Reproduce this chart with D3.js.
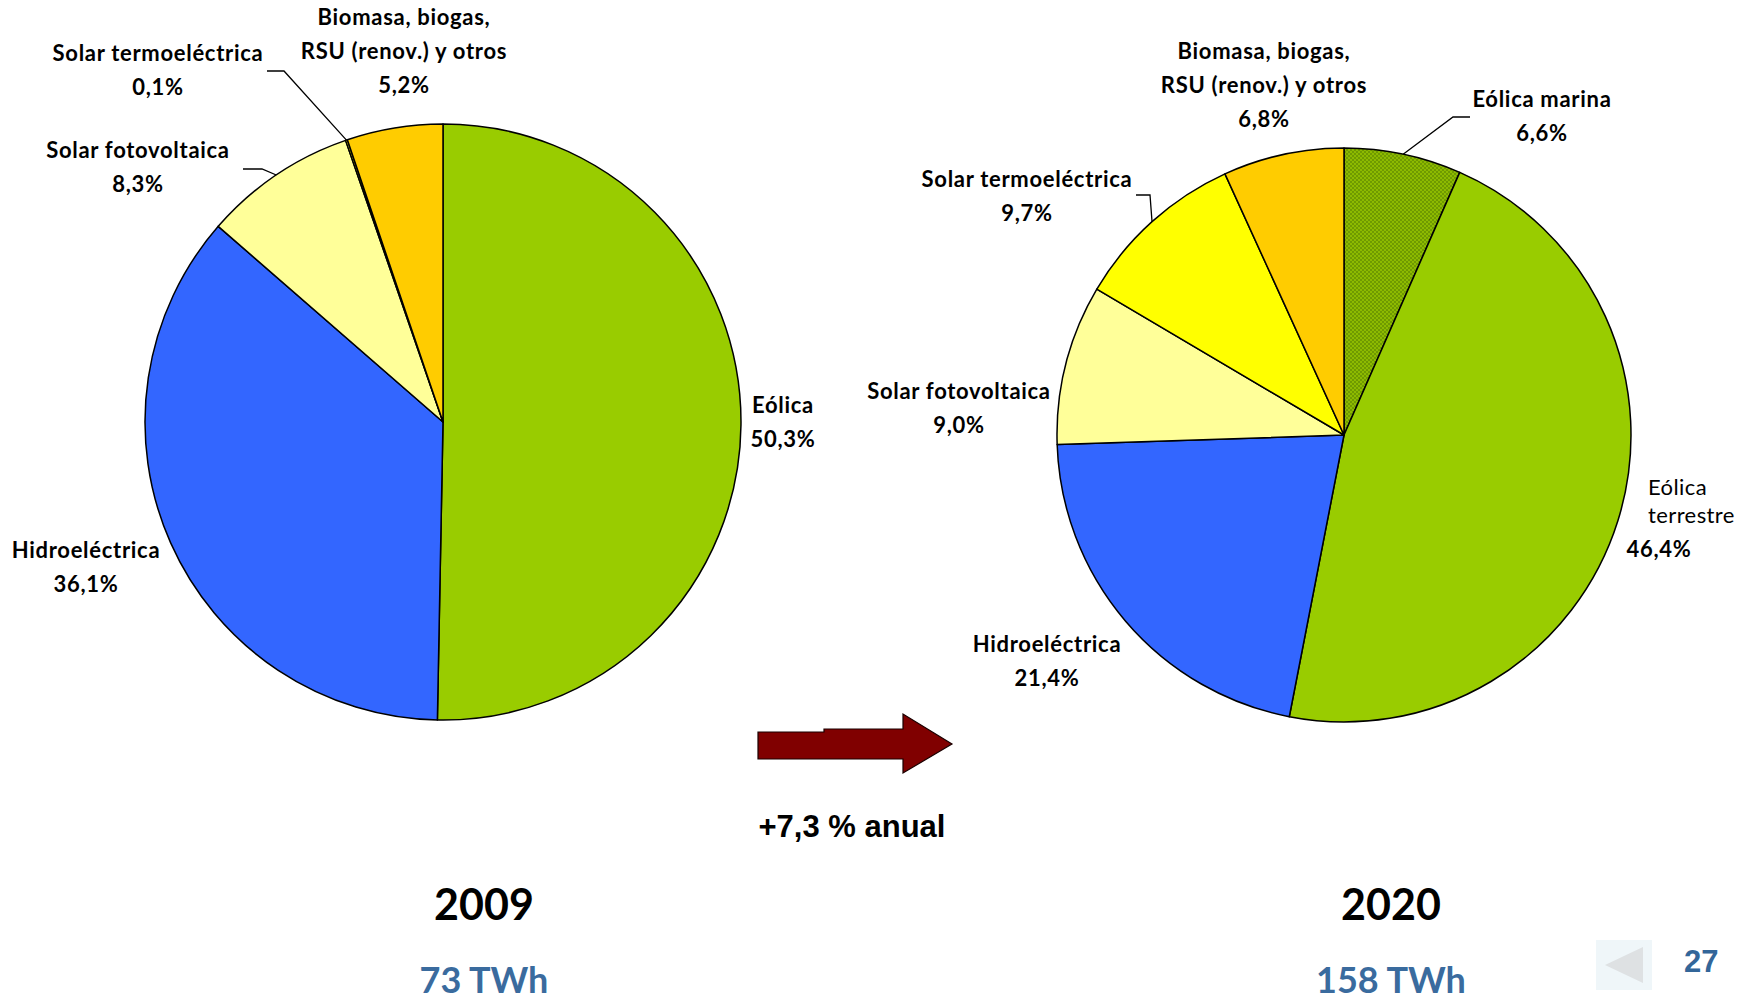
<!DOCTYPE html>
<html>
<head>
<meta charset="utf-8">
<script src="https://cdn.jsdelivr.net/npm/d3@7"></script>
<style>
  html, body { margin: 0; padding: 0; background: #fff; }
  svg { display: block; }
  .lbl { font-family: Lato, "Open Sans", sans-serif; font-weight: 700; font-size: 22px; letter-spacing: 0.7px; fill: #000; }
  .lbl-reg { font-family: Lato, "Open Sans", sans-serif; font-weight: 400; font-size: 22px; letter-spacing: 0.4px; fill: #000; }
</style>
</head>
<body>
<svg id="chart" width="1746" height="1000"></svg>
<script>
(function () {
  'use strict';

  // ── Data ──────────────────────────────────────────────────────────────────
  const categories2009 = ['Eólica', 'Hidroeléctrica', 'Solar fotovoltaica', 'Solar termoeléctrica', 'Biomasa, biogas, RSU (renov.) y otros'];
  const values2009     = [50.3, 36.1, 8.3, 0.1, 5.2];

  const categories2020 = ['Eólica marina', 'Eólica terrestre', 'Hidroeléctrica', 'Solar fotovoltaica', 'Solar termoeléctrica', 'Biomasa, biogas, RSU (renov.) y otros'];
  const values2020     = [6.6, 46.4, 21.4, 9.0, 9.7, 6.8];

  const years   = ['2009', '2020'];
  const totals  = ['73 TWh', '158 TWh'];
  const growth  = '+7,3 % anual';
  const pageNum = '27';

  // ── Styles / layout ───────────────────────────────────────────────────────
  const colors = {
    'Eólica': '#99CC00',
    'Eólica terrestre': '#99CC00',
    'Eólica marina': 'url(#marina)',
    'Hidroeléctrica': '#3366FF',
    'Solar fotovoltaica': '#FFFF99',
    'Solar termoeléctrica': '#FFFF00',
    'Biomasa, biogas, RSU (renov.) y otros': '#FFCC00'
  };

  // label lines, anchor (x, first baseline), optional leader start points
  const layout2009 = {
    'Eólica':               { lines: ['Eólica'], x: 783, y: 413 },
    'Hidroeléctrica':       { lines: ['Hidroeléctrica'], x: 86, y: 558 },
    'Solar fotovoltaica':   { lines: ['Solar fotovoltaica'], x: 138, y: 158, leader: [[243, 169], [262, 169]] },
    'Solar termoeléctrica': { lines: ['Solar termoeléctrica'], x: 158, y: 61, leader: [[267, 71], [284, 71]] },
    'Biomasa, biogas, RSU (renov.) y otros': { lines: ['Biomasa, biogas,', 'RSU (renov.) y otros'], x: 404, y: 25 }
  };
  const layout2020 = {
    'Eólica marina':        { lines: ['Eólica marina'], x: 1542, y: 107, leader: [[1470, 117], [1453, 117]] },
    'Eólica terrestre':     { lines: ['Eólica', 'terrestre'], x: 1648, y: 495, regular: true, lineH: 28, pctX: 1659, pctY: 557 },
    'Hidroeléctrica':       { lines: ['Hidroeléctrica'], x: 1047, y: 652 },
    'Solar fotovoltaica':   { lines: ['Solar fotovoltaica'], x: 959, y: 399 },
    'Solar termoeléctrica': { lines: ['Solar termoeléctrica'], x: 1027, y: 187, leader: [[1136, 195], [1150, 195]] },
    'Biomasa, biogas, RSU (renov.) y otros': { lines: ['Biomasa, biogas,', 'RSU (renov.) y otros'], x: 1264, y: 59 }
  };

  const LINE_H = 34;
  const fmtPct = v => v.toFixed(1).replace('.', ',') + '%';

  const svg = d3.select('#chart');

  // pattern for offshore wind (fine checks)
  const defs = svg.append('defs');
  const pat = defs.append('pattern')
    .attr('id', 'marina').attr('patternUnits', 'userSpaceOnUse')
    .attr('width', 4).attr('height', 4);
  pat.append('rect').attr('width', 4).attr('height', 4).attr('fill', '#8DBA00');
  pat.append('rect').attr('width', 2).attr('height', 2).attr('fill', '#6F9A00');
  pat.append('rect').attr('x', 2).attr('y', 2).attr('width', 2).attr('height', 2).attr('fill', '#6F9A00');

  // ── Draw one pie ──────────────────────────────────────────────────────────
  function drawPie(cats, vals, cx, cy, r, lay) {
    const rows = cats.map((c, i) => ({ name: c, value: vals[i] }));
    const pie = d3.pie().sort(null).value(d => d.value);
    const arcs = pie(rows);
    const arc = d3.arc().innerRadius(0).outerRadius(r);

    const g = svg.append('g').attr('transform', `translate(${cx},${cy})`);
    g.selectAll('path.slice')
      .data(arcs)
      .enter()
      .append('path')
      .attr('class', 'slice')
      .attr('d', arc)
      .attr('fill', d => colors[d.data.name])
      .attr('stroke', '#000')
      .attr('stroke-width', 1.5)
      .attr('stroke-linejoin', 'round');

    // labels
    arcs.forEach(a => {
      const L = lay[a.data.name];
      if (!L) return;
      const lh = L.lineH || LINE_H;
      const t = svg.append('g');
      L.lines.forEach((ln, i) => {
        t.append('text')
          .attr('class', L.regular ? 'lbl-reg' : 'lbl')
          .attr('x', L.x).attr('y', L.y + i * lh)
          .attr('text-anchor', L.regular ? 'start' : 'middle')
          .text(ln);
      });
      t.append('text')
        .attr('class', 'lbl')
        .attr('x', L.pctX || L.x)
        .attr('y', L.pctY || (L.y + L.lines.length * lh))
        .attr('text-anchor', 'middle')
        .text(fmtPct(a.data.value));

      if (L.leader) {
        const mid = (a.startAngle + a.endAngle) / 2;
        const ex = cx + r * Math.sin(mid), ey = cy - r * Math.cos(mid);
        const pts = L.leader.concat([[ex, ey]]);
        svg.append('path')
          .attr('d', d3.line()(pts))
          .attr('fill', 'none')
          .attr('stroke', '#000')
          .attr('stroke-width', 1.3);
      }
    });
  }

  drawPie(categories2009, values2009, 443, 422, 298, layout2009);
  drawPie(categories2020, values2020, 1344, 435, 287, layout2020);

  // ── Year + totals ─────────────────────────────────────────────────────────
  const colX = [484, 1391];
  years.forEach((y, i) => {
    svg.append('text')
      .attr('x', colX[i]).attr('y', 920)
      .attr('text-anchor', 'middle')
      .style('font-family', 'Lato, sans-serif').style('font-weight', 700).style('font-size', '43px')
      .attr('fill', '#000')
      .text(y);
    svg.append('text')
      .attr('x', colX[i]).attr('y', 993)
      .attr('text-anchor', 'middle')
      .style('font-family', 'Lato, sans-serif').style('font-weight', 700).style('font-size', '36px')
      .attr('fill', '#3A6B9E')
      .text(totals[i]);
  });

  // ── Growth arrow ──────────────────────────────────────────────────────────
  svg.append('path')
    .attr('d', 'M758,732 L824,732 L824,729 L903,729 L903,714 L952,744 L903,773 L903,759 L758,759 Z')
    .attr('fill', '#800000')
    .attr('stroke', '#1a0000')
    .attr('stroke-width', 1.2)
    .attr('stroke-linejoin', 'miter');

  svg.append('text')
    .attr('x', 852).attr('y', 837)
    .attr('text-anchor', 'middle')
    .style('font-family', '"Liberation Sans", Arial, sans-serif').style('font-weight', 700).style('font-size', '31px')
    .attr('fill', '#000')
    .text(growth);

  // ── Page nav + number ─────────────────────────────────────────────────────
  svg.append('rect')
    .attr('x', 1596).attr('y', 940).attr('width', 56).attr('height', 50)
    .attr('fill', '#EFF6F9');
  svg.append('path')
    .attr('d', 'M1643,947 L1605,965 L1643,983 Z')
    .attr('fill', '#DEE1E3');
  svg.append('text')
    .attr('x', 1684).attr('y', 972)
    .style('font-family', '"Liberation Sans", Arial, sans-serif').style('font-weight', 700).style('font-size', '31px')
    .attr('fill', '#336699')
    .text(pageNum);
})();
</script>
</body>
</html>
